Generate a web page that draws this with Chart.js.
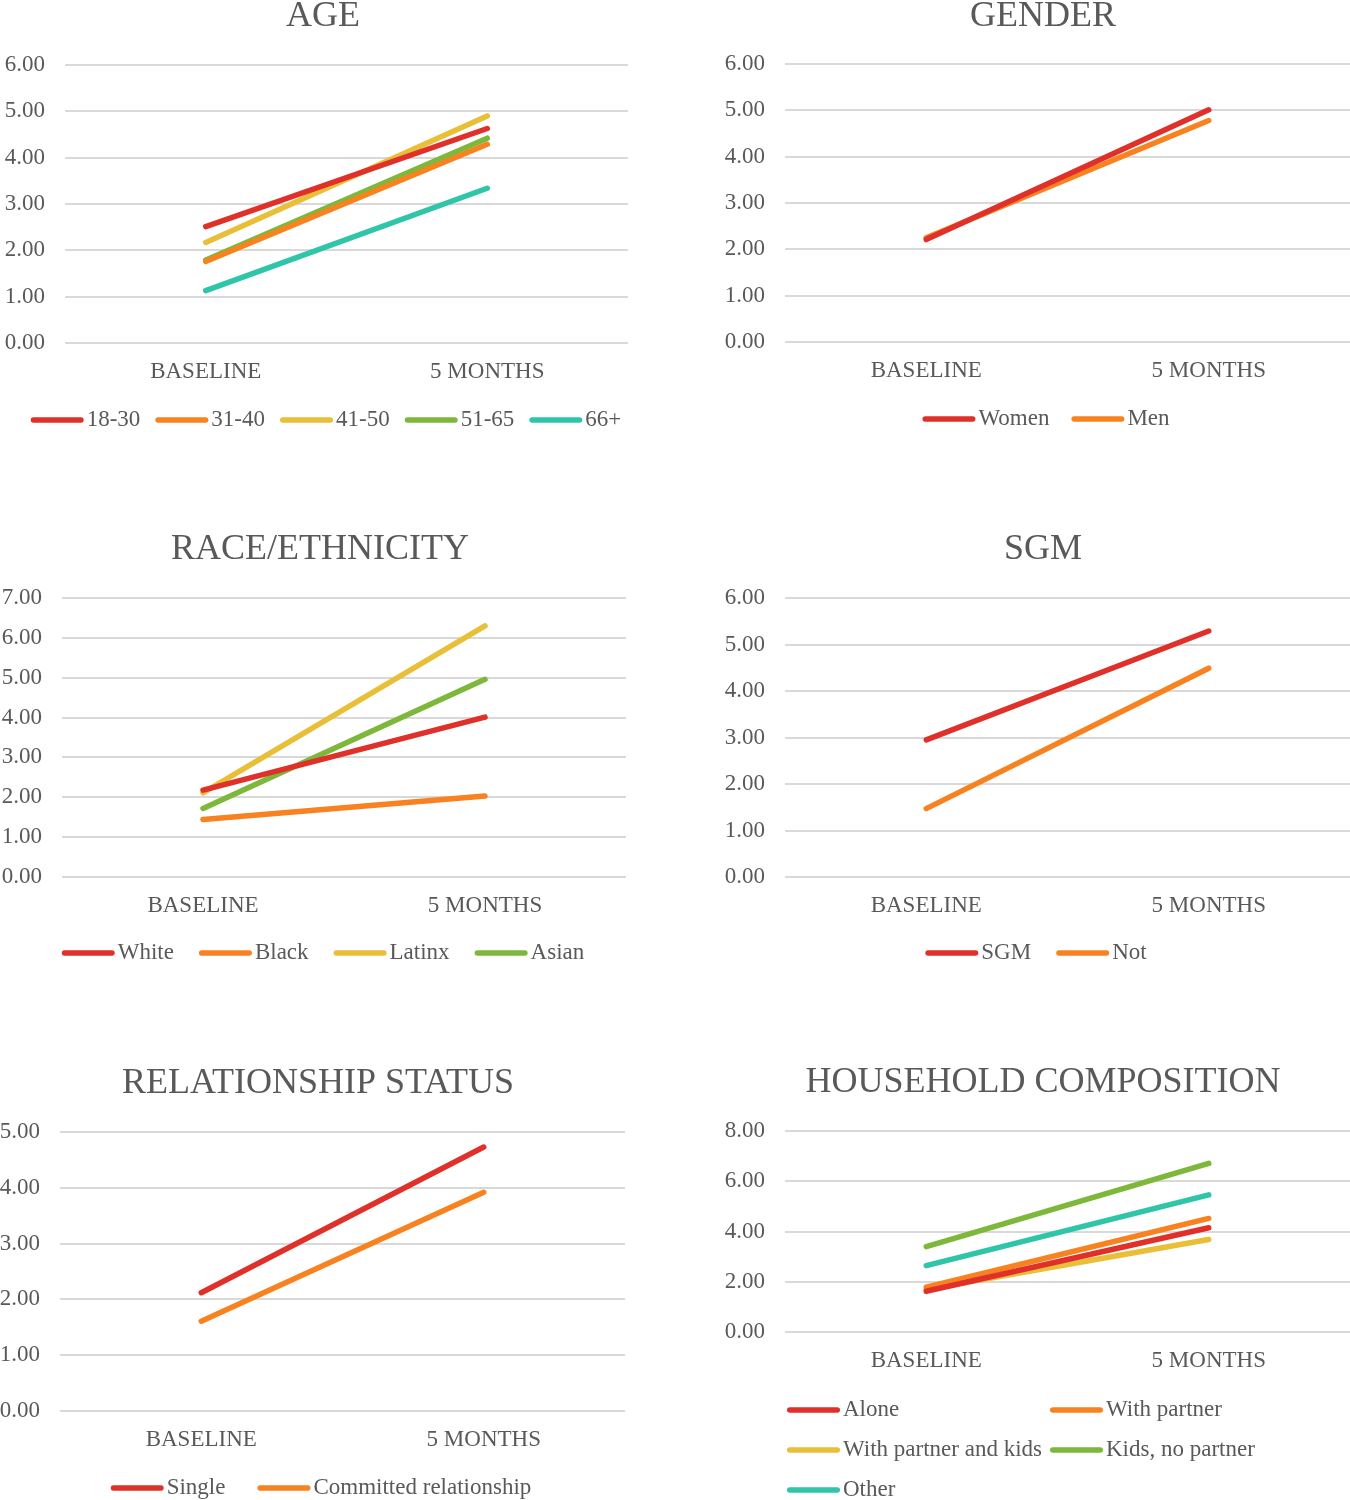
<!DOCTYPE html>
<html><head><meta charset="utf-8">
<script src="https://cdn.jsdelivr.net/npm/chart.js@4.4.0/dist/chart.umd.min.js"></script>
<style>
html,body{margin:0;padding:0;background:#fff;width:1350px;height:1500px;overflow:hidden;position:relative}
.box{position:absolute}
canvas{display:block}
</style></head><body>
<div class="box" id="b1"><canvas id="c1"></canvas></div>
<div class="box" id="b2"><canvas id="c2"></canvas></div>
<div class="box" id="b3"><canvas id="c3"></canvas></div>
<div class="box" id="b4"><canvas id="c4"></canvas></div>
<div class="box" id="b5"><canvas id="c5"></canvas></div>
<div class="box" id="b6"><canvas id="c6"></canvas></div>
<script>
// ---- data ----
const timepoints = ['BASELINE', '5 MONTHS'];

const ageGroups = ['18-30', '31-40', '41-50', '51-65', '66+'];
const ageBaseline = [2.51, 1.76, 2.17, 1.79, 1.13];
const ageFiveMonths = [4.63, 4.29, 4.90, 4.42, 3.34];

const genderGroups = ['Women', 'Men'];
const genderBaseline = [2.21, 2.25];
const genderFiveMonths = [5.01, 4.78];

const raceGroups = ['White', 'Black', 'Latinx', 'Asian'];
const raceBaseline = [2.18, 1.44, 2.11, 1.72];
const raceFiveMonths = [4.01, 2.03, 6.30, 4.96];

const sgmGroups = ['SGM', 'Not'];
const sgmBaseline = [2.95, 1.47];
const sgmFiveMonths = [5.29, 4.49];

const relGroups = ['Single', 'Committed relationship'];
const relBaseline = [2.12, 1.61];
const relFiveMonths = [4.73, 3.92];

const houseGroups = ['Alone', 'With partner', 'With partner and kids', 'Kids, no partner', 'Other'];
const houseBaseline = [1.62, 1.78, 1.69, 3.40, 2.64];
const houseFiveMonths = [4.15, 4.52, 3.68, 6.71, 5.46];

// ---- style ----
const palette = ['#E0302A', '#F7821F', '#E8BF37', '#7DB83B', '#2EC5A8'];
const FONT = "'Liberation Serif', 'Times New Roman', serif";
const TEXT = '#595959';
const XH = 50;

const decorPlugin = {
  id: 'decor',
  afterDraw(chart, args, opts) {
    const ctx = chart.ctx;
    ctx.save();
    // title
    ctx.font = '36px ' + FONT;
    ctx.fillStyle = TEXT;
    ctx.textAlign = 'center';
    ctx.textBaseline = 'alphabetic';
    ctx.fillText(opts.title, opts.titleX - opts.offX, opts.titleY - opts.offY + 12);
    // legend
    ctx.font = '23px ' + FONT;
    ctx.textBaseline = 'middle';
    ctx.textAlign = 'left';
    const items = chart.data.datasets.map(d => ({ text: d.label, color: d.borderColor }));
    const SW = 53, G = 3;
    const lg = opts.legend;
    let pos = [];
    if (lg.cols) {
      items.forEach((it, i) => {
        pos.push({ x: lg.cols[i % lg.cols.length], y: lg.rows[Math.floor(i / lg.cols.length)] });
      });
    } else {
      const widths = items.map(it => SW + G + ctx.measureText(it.text).width);
      const total = widths.reduce((a, b) => a + b, 0) + lg.gap * (items.length - 1);
      let x = lg.cx - total / 2;
      widths.forEach(w => { pos.push({ x: x, y: lg.y }); x += w + lg.gap; });
    }
    items.forEach((it, i) => {
      const x = pos[i].x - opts.offX, y = pos[i].y - opts.offY;
      ctx.strokeStyle = it.color;
      ctx.lineWidth = 5.5;
      ctx.lineCap = 'round';
      ctx.beginPath();
      ctx.moveTo(x + 2.75, y);
      ctx.lineTo(x + SW - 2.75, y);
      ctx.stroke();
      ctx.fillStyle = TEXT;
      ctx.fillText(it.text, x + SW + G, y);
    });
    ctx.restore();
  }
};

function makeChart(n, cfg) {
  const T = cfg.titleY - 34;
  const box = document.getElementById('b' + n);
  box.style.left = cfg.left + 'px';
  box.style.top = T + 'px';
  const cv = document.getElementById('c' + n);
  cv.width = cfg.width; cv.height = cfg.height;
  cv.style.width = cfg.width + 'px'; cv.style.height = cfg.height + 'px';
  const datasets = cfg.names.map((name, i) => ({
    label: name,
    data: [cfg.base[i], cfg.five[i]],
    borderColor: palette[i],
    backgroundColor: palette[i],
    borderWidth: 5.5,
    borderCapStyle: 'round',
    pointRadius: 0,
    pointHoverRadius: 0,
    tension: 0,
    fill: false
  }));
  const plotBottomC = cfg.plotBottom - T;
  const pr = cfg.left + cfg.width - cfg.plotRight;
  new Chart(cv, {
    type: 'line',
    data: { labels: timepoints, datasets: datasets },
    options: {
      responsive: false, animation: false, devicePixelRatio: 1,
      layout: { padding: { left: 0, right: pr, top: cfg.plotTop - T, bottom: cfg.height - plotBottomC - XH } },
      plugins: {
        legend: { display: false },
        tooltip: { enabled: false },
        title: { display: false },
        decor: { title: cfg.title, titleX: cfg.titleX, titleY: cfg.titleY, offX: cfg.left, offY: T, legend: cfg.legend }
      },
      scales: {
        x: {
          offset: true,
          grid: { display: false, drawTicks: false },
          border: { display: false },
          ticks: { color: TEXT, font: { family: FONT, size: 23 }, padding: 15, maxRotation: 0 },
          afterFit(s) { s.height = XH; }
        },
        y: {
          min: 0, max: cfg.max,
          ticks: { stepSize: cfg.step, callback: v => Number(v).toFixed(2), padding: 20, color: TEXT, font: { family: FONT, size: 23 } },
          grid: { color: '#D9D9D9', lineWidth: 2, drawTicks: false },
          border: { display: false },
          afterFit(s) { s.width = cfg.plotLeft - cfg.left; }
        }
      }
    },
    plugins: [decorPlugin]
  });
}

makeChart(1, { title: 'AGE', names: ageGroups, base: ageBaseline, five: ageFiveMonths,
  left: 0, titleX: 323, titleY: 14, width: 650, height: 470, plotLeft: 65, plotRight: 628, plotTop: 65, plotBottom: 343, max: 6, step: 1,
  legend: { cx: 326, y: 420, gap: 15 } });
makeChart(2, { title: 'GENDER', names: genderGroups, base: genderBaseline, five: genderFiveMonths,
  left: 700, titleX: 1043, titleY: 14, width: 650, height: 470, plotLeft: 785, plotRight: 1350, plotTop: 64, plotBottom: 342, max: 6, step: 1,
  legend: { cx: 1046, y: 419, gap: 22 } });
makeChart(3, { title: 'RACE/ETHNICITY', names: raceGroups, base: raceBaseline, five: raceFiveMonths,
  left: 0, titleX: 320, titleY: 547, width: 650, height: 470, plotLeft: 62, plotRight: 626, plotTop: 598, plotBottom: 877, max: 7, step: 1,
  legend: { cx: 323, y: 953, gap: 25 } });
makeChart(4, { title: 'SGM', names: sgmGroups, base: sgmBaseline, five: sgmFiveMonths,
  left: 700, titleX: 1043, titleY: 547, width: 650, height: 470, plotLeft: 785, plotRight: 1350, plotTop: 598, plotBottom: 877, max: 6, step: 1,
  legend: { cx: 1036, y: 953, gap: 25 } });
makeChart(5, { title: 'RELATIONSHIP STATUS', names: relGroups, base: relBaseline, five: relFiveMonths,
  left: 0, titleX: 318, titleY: 1081, width: 650, height: 453, plotLeft: 60, plotRight: 625, plotTop: 1132, plotBottom: 1411, max: 5, step: 1,
  legend: { cx: 321, y: 1488, gap: 32 } });
makeChart(6, { title: 'HOUSEHOLD COMPOSITION', names: houseGroups, base: houseBaseline, five: houseFiveMonths,
  left: 700, titleX: 1043, titleY: 1080, width: 650, height: 454, plotLeft: 785, plotRight: 1350, plotTop: 1131, plotBottom: 1332, max: 8, step: 2,
  legend: { cols: [787, 1050], rows: [1410, 1450, 1490] } });
</script>
</body></html>
